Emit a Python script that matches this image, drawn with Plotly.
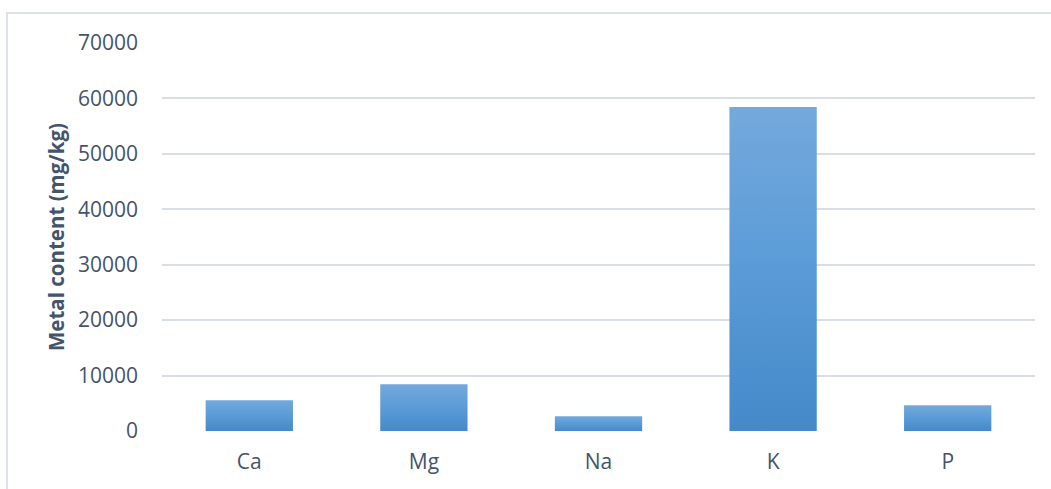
import plotly.graph_objects as go

# Metal content per element
elements = ["Ca", "Mg", "Na", "K", "P"]
content = [5550, 8450, 2650, 58450, 4650]
y_ticks = [0, 10000, 20000, 30000, 40000, 50000, 60000, 70000]

TEXT = "#44546A"
GRID = "#D9DEE5"
half = 0.25  # half bar width in category units

fig = go.Figure()
for i, (name, val) in enumerate(zip(elements, content)):
    xs = [i - half, i + half, i + half, i - half, i - half]
    ys = [0, 0, val, val, 0]
    fig.add_trace(go.Scatter(
        x=xs, y=ys, mode="lines", fill="toself",
        line=dict(width=0, color="rgba(0,0,0,0)"),
        fillgradient=dict(
            type="vertical",
            colorscale=[[0, "#4589C9"], [0.5, "#5A9BD7"], [1, "#74A9DC"]],
        ),
        name=name, showlegend=False, hoverinfo="skip",
    ))

# chart area outline
fig.add_shape(type="rect", xref="paper", yref="paper",
              x0=-0.1776, x1=1.2, y0=-0.3, y1=1.0773,
              line=dict(color="#DDE2E9", width=2), fillcolor="rgba(0,0,0,0)",
              layer="below")

fig.update_layout(
    width=1051, height=489,
    margin=dict(l=162, r=16, t=43, b=58),
    paper_bgcolor="white", plot_bgcolor="white",
    font=dict(family="Open Sans", color=TEXT, size=21),
    xaxis=dict(
        range=[-0.5, 4.5], tickmode="array",
        tickvals=list(range(len(elements))), ticktext=elements,
        showgrid=False, zeroline=False, showline=False,
        ticks="", ticklabelstandoff=16,
        tickfont=dict(size=21, color=TEXT),
    ),
    yaxis=dict(
        range=[0, 70000], tickmode="array", tickvals=y_ticks,
        ticktext=[str(v) for v in y_ticks],
        showgrid=True, gridcolor=GRID, gridwidth=2,
        zeroline=False, showline=False, ticks="",
        ticklabelstandoff=23,
        tickfont=dict(size=21, color=TEXT),
        title=dict(text="<b>Metal content (mg/kg)</b>",
                   font=dict(size=20.5, color=TEXT), standoff=7),
    ),
)

fig.write_html("out.html")
